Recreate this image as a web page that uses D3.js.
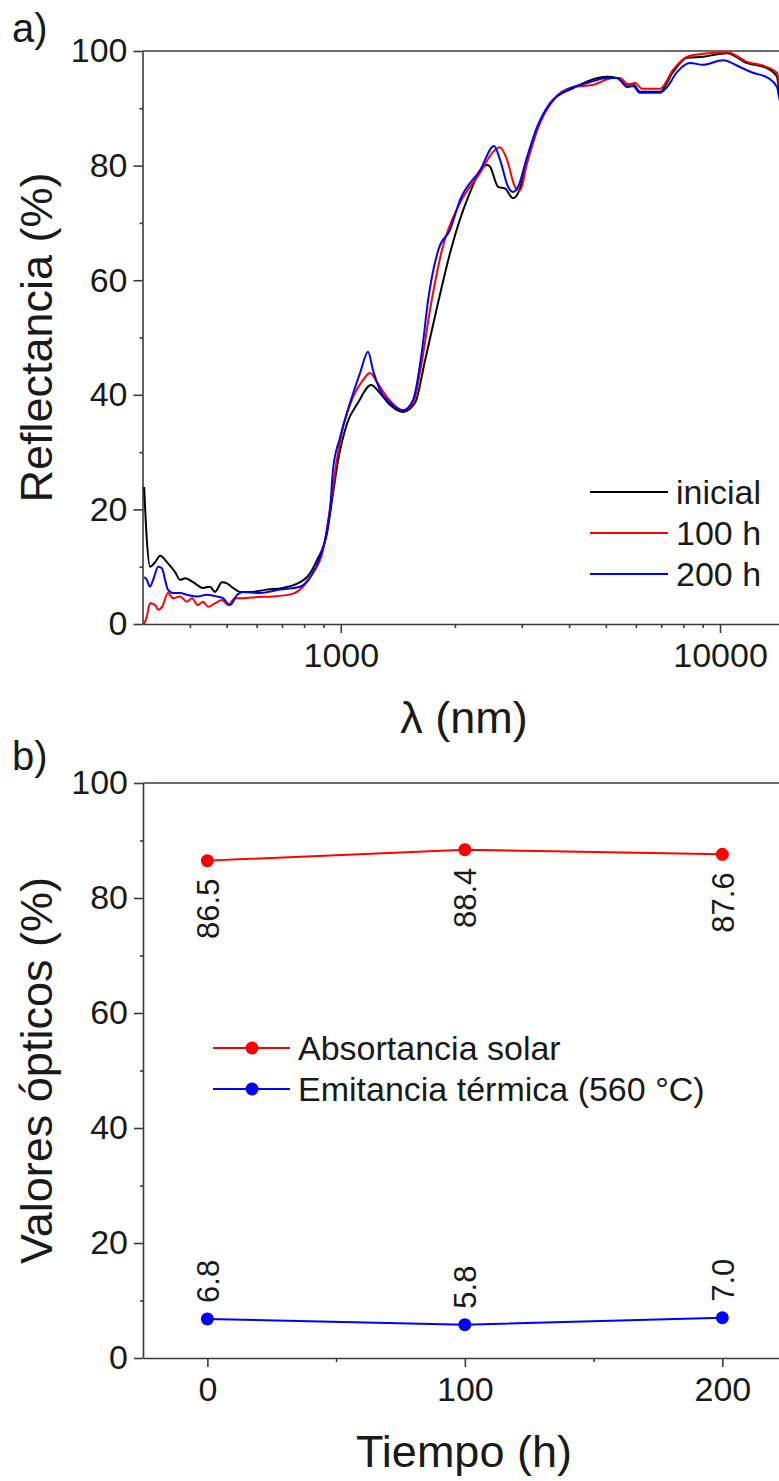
<!DOCTYPE html>
<html>
<head>
<meta charset="utf-8">
<script src="https://cdn.jsdelivr.net/npm/d3@7"></script>
<style>
  body { margin: 0; background: #fff; }
  svg { display: block; font-family: "Liberation Sans", Arial, sans-serif; }
  .axis path, .axis line { stroke: #3a3a3a; stroke-width: 1.6; }
  .axis text { fill: #1a1a1a; font-size: 34px; font-family: "Liberation Sans", Arial, sans-serif; }
</style>
</head>
<body>
<div id="chart"></div>
<script>
// DATA
// panel a) reflectance spectra: [wavelength nm, reflectance %]
var inicial = [
  [303, 23.9], [308, 14.7], [314, 10], [324, 10.8], [334, 11.9], [348, 10.8], [366, 9], [377, 7.7],
  [389, 8], [408, 7.3], [433, 6.3], [452, 6.5], [466, 5.6], [486, 7.3], [501, 7.1], [520, 6.3],
  [542, 5.6], [576, 5.6], [639, 6], [704, 6.3], [781, 7.3], [815, 8.2], [866, 11.2], [920, 15.9],
  [948, 21.6], [984, 28.6], [1039, 35], [1110, 38.6], [1202, 41.7], [1269, 40.3], [1349, 38.2],
  [1460, 37], [1570, 38.6], [1668, 46], [1794, 55.3], [1955, 65.5], [2152, 74], [2430, 80.1],
  [2475, 79.8], [2598, 76.3], [2711, 76], [2846, 74.3], [2934, 75.2], [3098, 80.5], [3292, 86.2],
  [3628, 91.4], [4095, 93.5], [5036, 95.5], [5351, 95.3], [5686, 94.1], [5897, 94.2], [6153, 92.9],
  [6945, 92.9], [7516, 96.3], [8185, 98.8], [9019, 99], [10434, 99.6], [11779, 97.9], [13301, 97],
  [14134, 95.5], [14307, 93.2], [15000, 90]
];
var h100 = [
  [303, 0], [308, 1.3], [314, 3.6], [324, 3.3], [330, 2.5], [338, 3], [350, 5.4], [361, 4.5],
  [377, 4.8], [393, 3.9], [405, 4.5], [420, 3.3], [433, 3.9], [447, 3], [466, 3.6], [486, 4.2],
  [504, 3.3], [526, 4.5], [552, 4.5], [602, 4.7], [663, 4.8], [748, 5.3], [795, 6.5], [845, 8.9],
  [898, 12.9], [943, 21.6], [978, 29], [1014, 34.4], [1077, 39.6], [1145, 42.6], [1194, 43.8],
  [1246, 42.2], [1324, 39.6], [1460, 37.3], [1551, 38.6], [1638, 46], [1719, 54.8], [1849, 65.3],
  [2063, 73.5], [2329, 78.7], [2521, 82.4], [2630, 83.2], [2744, 81], [2881, 76.3], [2969, 75.7],
  [3098, 80.5], [3292, 86.2], [3628, 91.4], [4095, 93.7], [4625, 94.1], [5223, 95.3], [5450, 95.3],
  [5721, 94.2], [5969, 94.4], [6228, 93.4], [6945, 93.4], [7516, 96.7], [8185, 99], [9019, 99.5],
  [10434, 99.8], [11779, 98.1], [13301, 97.2], [14134, 96.2], [14307, 94.4], [15000, 91]
];
var h200 = [
  [303, 8.2], [308, 7.7], [314, 6.5], [320, 7.7], [330, 10], [338, 9.7], [344, 7.7], [350, 6],
  [361, 5.4], [377, 5.4], [393, 5.1], [418, 4.8], [444, 5.1], [472, 4.8], [489, 4.5], [511, 3.3],
  [533, 5.1], [552, 5.6], [613, 5.4], [692, 6], [781, 6.5], [830, 8.2], [882, 11.7], [937, 20],
  [954, 27], [996, 32.6], [1058, 38.6], [1124, 43.8], [1180, 47.5], [1216, 44.3], [1269, 40.8],
  [1349, 38.6], [1460, 37.3], [1551, 39.1], [1638, 47.8], [1699, 56.5], [1810, 65.4], [1941, 68.8],
  [2063, 74], [2329, 79.2], [2536, 83.4], [2630, 81], [2761, 76.3], [2846, 75.4], [2934, 76.3],
  [3098, 81.5], [3292, 86.7], [3563, 90.9], [3949, 93.2], [4459, 94.4], [5036, 95.3], [5351, 95.3],
  [5686, 93.7], [5897, 93.9], [6153, 92.7], [6945, 92.7], [7247, 93.7], [7700, 96.3], [8335, 97.9],
  [9019, 97.6], [10184, 98.4], [11288, 97.2], [12215, 96.2], [13382, 95.3], [14134, 93.7],
  [14307, 92], [15000, 88]
];
var seriesNamesA = ["inicial", "100 h", "200 h"];
var seriesColors = ["#000000", "#ff0000", "#0000ff"];

// panel b) optical values vs time
var tiempo = [0, 100, 200];
var absortancia = [86.5, 88.4, 87.6];
var emitancia = [6.8, 5.8, 7.0];
var seriesNamesB = ["Absortancia solar", "Emitancia t\u00e9rmica (560 \u00b0C)"];

// ticks
var yTicks = [0, 20, 40, 60, 80, 100];
var yMinor = [10, 30, 50, 70, 90];
var xTicksA = [1000, 10000];
var xMinorA = [400, 500, 600, 700, 800, 900, 2000, 3000, 4000, 5000, 6000, 7000, 8000, 9000];
var xTicksB = [0, 100, 200];
var xMinorB = [50, 150];

// SET UP
var svg = d3.select("#chart").append("svg")
    .attr("width", 779)
    .attr("height", 1481);

// scales
var xA = d3.scaleLog().domain([300, 15000]).range([142.5, 786.8]);
var yA = d3.scaleLinear().domain([0, 100]).range([624, 51]);
var xB = d3.scaleLinear().domain([-25, 225]).range([143, 786.7]);
var yB = d3.scaleLinear().domain([0, 100]).range([1358, 783]);

// draws frame + axes for a panel
function drawFrame(x, y, xMajor, xMinor, xFmt) {
    var x0 = x.range()[0], x1 = x.range()[1], y0 = y.range()[0], y1 = y.range()[1];

    // top line of the box
    svg.append("line")
        .attr("x1", x0).attr("x2", x1).attr("y1", y1).attr("y2", y1)
        .attr("stroke", "#3a3a3a").attr("stroke-width", 1.6);

    // minor ticks
    svg.append("g").attr("class", "axis")
        .attr("transform", "translate(0," + y0 + ")")
        .call(d3.axisBottom(x).tickValues(xMinor).tickSize(4).tickFormat(""))
        .select(".domain").remove();
    svg.append("g").attr("class", "axis")
        .attr("transform", "translate(" + x0 + ",0)")
        .call(d3.axisLeft(y).tickValues(yMinor).tickSize(3).tickFormat(""))
        .select(".domain").remove();

    // major ticks
    svg.append("g").attr("class", "axis")
        .attr("transform", "translate(0," + y0 + ")")
        .call(d3.axisBottom(x).tickValues(xMajor).tickSize(9).tickSizeOuter(0).tickPadding(10).tickFormat(xFmt));
    svg.append("g").attr("class", "axis")
        .attr("transform", "translate(" + x0 + ",0)")
        .call(d3.axisLeft(y).tickValues(yTicks).tickSize(9).tickSizeOuter(0).tickPadding(6));
}

// PANEL A
drawFrame(xA, yA, xTicksA, xMinorA, d3.format("d"));

svg.append("clipPath").attr("id", "clipA")
    .append("rect").attr("x", 143).attr("y", 40).attr("width", 650).attr("height", 585);

var lineA = d3.line()
    .x(function(d) { return xA(d[0]); })
    .y(function(d) { return yA(d[1]); })
    .curve(d3.curveMonotoneX);

[inicial, h100, h200].forEach(function(s, i) {
    svg.append("path")
        .datum(s)
        .attr("clip-path", "url(#clipA)")
        .attr("fill", "none")
        .attr("stroke", seriesColors[i])
        .attr("stroke-width", 2)
        .attr("stroke-linejoin", "round")
        .attr("d", lineA);
});

// legend a
seriesNamesA.forEach(function(name, i) {
    var ly = 492 + i * 41;
    svg.append("line")
        .attr("x1", 590).attr("x2", 668).attr("y1", ly).attr("y2", ly)
        .attr("stroke", seriesColors[i]).attr("stroke-width", 2);
    svg.append("text")
        .attr("x", 676).attr("y", ly + 12)
        .attr("font-size", 34).attr("fill", "#1a1a1a")
        .text(name);
});

// titles a
svg.append("text").attr("x", 12).attr("y", 42).attr("font-size", 40).attr("fill", "#1a1a1a").text("a)");
svg.append("text")
    .attr("transform", "translate(52," + ((51 + 624) / 2) + ") rotate(-90)")
    .attr("text-anchor", "middle").attr("font-size", 45).attr("fill", "#1a1a1a")
    .text("Reflectancia (%)");
svg.append("text")
    .attr("x", 464).attr("y", 733)
    .attr("text-anchor", "middle").attr("font-size", 45).attr("fill", "#1a1a1a")
    .text("\u03bb (nm)");

// PANEL B
drawFrame(xB, yB, xTicksB, xMinorB, d3.format("d"));

var lineB = d3.line()
    .x(function(d, i) { return xB(tiempo[i]); })
    .y(function(d) { return yB(d); });

var bSeries = [absortancia, emitancia];
var bColors = ["#ff0000", "#0000ff"];

bSeries.forEach(function(s, k) {
    svg.append("path")
        .datum(s)
        .attr("fill", "none")
        .attr("stroke", bColors[k])
        .attr("stroke-width", 2)
        .attr("d", lineB);

    svg.append("g")
        .selectAll("circle")
        .data(s)
        .join("circle")
        .attr("cx", function(d, i) { return xB(tiempo[i]); })
        .attr("cy", function(d) { return yB(d); })
        .attr("r", 6.5)
        .attr("fill", bColors[k]);

    // value labels, rotated
    svg.append("g")
        .selectAll("text")
        .data(s)
        .join("text")
        .attr("transform", function(d, i) {
            var off = k === 0 ? 18 : -16;
            return "translate(" + xB(tiempo[i]) + "," + (yB(d) + off) + ") rotate(-90)";
        })
        .attr("dy", "0.36em")
        .attr("text-anchor", k === 0 ? "end" : "start")
        .attr("font-size", 31)
        .attr("fill", "#1a1a1a")
        .text(function(d) { return d3.format(".1f")(d); });
});

// legend b
seriesNamesB.forEach(function(name, k) {
    var ly = 1048 + k * 41;
    svg.append("line")
        .attr("x1", 213).attr("x2", 290).attr("y1", ly).attr("y2", ly)
        .attr("stroke", bColors[k]).attr("stroke-width", 2);
    svg.append("circle")
        .attr("cx", 252).attr("cy", ly).attr("r", 6.5).attr("fill", bColors[k]);
    svg.append("text")
        .attr("x", 298).attr("y", ly + 12)
        .attr("font-size", 34).attr("fill", "#1a1a1a")
        .text(name);
});

// titles b
svg.append("text").attr("x", 12).attr("y", 770).attr("font-size", 40).attr("fill", "#1a1a1a").text("b)");
svg.append("text")
    .attr("transform", "translate(52," + ((783 + 1358) / 2) + ") rotate(-90)")
    .attr("text-anchor", "middle").attr("font-size", 45).attr("fill", "#1a1a1a")
    .text("Valores \u00f3pticos (%)");
svg.append("text")
    .attr("x", 464).attr("y", 1467)
    .attr("text-anchor", "middle").attr("font-size", 45).attr("fill", "#1a1a1a")
    .text("Tiempo (h)");
</script>
</body>
</html>
